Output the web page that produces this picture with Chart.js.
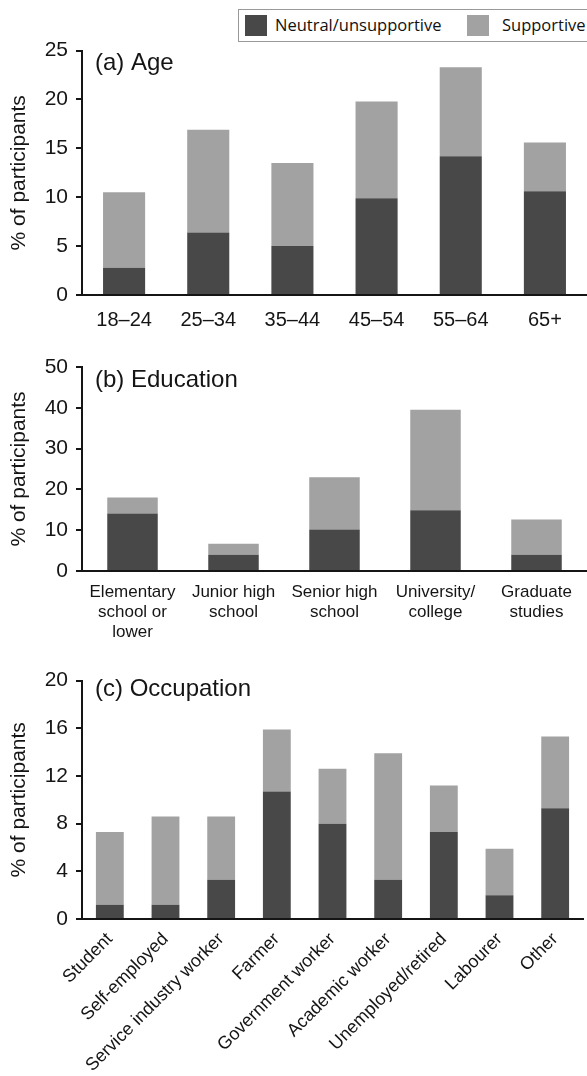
<!DOCTYPE html>
<html>
<head>
<meta charset="utf-8">
<script src="https://cdn.jsdelivr.net/npm/chart.js@4.4.1/dist/chart.umd.min.js"></script>
<style>
  body { margin: 0; background: #fff; }
  #wrap { position: relative; width: 587px; height: 1076px; overflow: hidden; }
  canvas { position: absolute; left: 0; }
  #legend {
    position: absolute; left: 238px; top: 9px; width: 370px; height: 31px;
    border: 1.5px solid #999; background: #fff; z-index: 2;
    font-family: 'Open Sans', sans-serif; font-size: 16.5px; color: #111;
  }
  #legend span.sw { position: absolute; top: 5px; width: 22px; height: 21px; }
  #legend span.tx { position: absolute; top: 4px; line-height: 22px; }
</style>
</head>
<body>
<div id="wrap">
  <div id="legend"></div>
  <canvas id="age" width="587" height="310" style="top:30px"></canvas>
  <canvas id="edu" width="587" height="320" style="top:340px"></canvas>
  <canvas id="occ" width="587" height="416" style="top:660px"></canvas>
</div>
<script>
const seriesNames = ['Neutral/unsupportive', 'Supportive'];

const ageLabels = ['18–24', '25–34', '35–44', '45–54', '55–64', '65+'];
const ageNeutral = [2.8, 6.4, 5.0, 9.9, 14.2, 10.6];
const ageSupportive = [7.7, 10.5, 8.5, 9.9, 9.1, 5.0];
const ageTicks = [0, 25, 5];

const eduLabels = [['Elementary', 'school or', 'lower'], ['Junior high', 'school'], ['Senior high', 'school'], ['University/', 'college'], ['Graduate', 'studies']];
const eduNeutral = [14.1, 4.0, 10.2, 14.9, 4.0];
const eduSupportive = [3.9, 2.7, 12.8, 24.6, 8.6];
const eduTicks = [0, 50, 10];

const occLabels = ['Student', 'Self-employed', 'Service industry worker', 'Farmer', 'Government worker', 'Academic worker', 'Unemployed/retired', 'Labourer', 'Other'];
const occNeutral = [1.2, 1.2, 3.3, 10.7, 8.0, 3.3, 7.3, 2.0, 9.3];
const occSupportive = [6.1, 7.4, 5.3, 5.2, 4.6, 10.6, 3.9, 3.9, 6.0];
const occTicks = [0, 20, 4];

const DARK = '#484848';
const LIGHT = '#a2a2a2';
const INK = '#151515';
const FONT = "'Liberation Sans', Arial, sans-serif";

// legend
const colors = [DARK, LIGHT];
const legendPos = [[6, 36], [228, 263]];
const legend = document.getElementById('legend');
seriesNames.forEach((name, i) => {
  legend.insertAdjacentHTML('beforeend',
    `<span class="sw" style="left:${legendPos[i][0]}px;background:${colors[i]}"></span>` +
    `<span class="tx" style="left:${legendPos[i][1]}px">${name}</span>`);
});

const titlePlugin = {
  id: 'panelTitle',
  afterDraw(chart, args, opts) {
    const { ctx, chartArea } = chart;
    ctx.save();
    ctx.font = `24px ${FONT}`;
    ctx.fillStyle = INK;
    ctx.textBaseline = 'alphabetic';
    ctx.fillText(opts.text, chartArea.left + 13, chartArea.top + opts.dy);
    ctx.restore();
  }
};

function panel(id, title, labels, neutral, supportive, yTicks, o) {
  return new Chart(document.getElementById(id), {
    type: 'bar',
    data: {
      labels,
      datasets: [
        { label: seriesNames[0], data: neutral, backgroundColor: DARK, barPercentage: 1, categoryPercentage: 0.5 },
        { label: seriesNames[1], data: supportive, backgroundColor: LIGHT, barPercentage: 1, categoryPercentage: 0.5 }
      ]
    },
    options: {
      responsive: false,
      animation: false,
      layout: { padding: { top: o.top, right: o.right, left: 0, bottom: 0 } },
      plugins: {
        legend: { display: false },
        tooltip: { enabled: false },
        panelTitle: { text: title, dy: o.titleDy }
      },
      scales: {
        x: {
          stacked: true,
          grid: { display: false, drawTicks: false },
          border: { display: true, color: INK, width: 2 },
          ticks: {
            color: INK, autoSkip: false,
            font: { family: FONT, size: o.xFont, lineHeight: 1.15 },
            padding: o.xPad,
            maxRotation: o.rot, minRotation: o.rot
          },
          afterFit: s => { s.height = o.xHeight; }
        },
        y: {
          stacked: true,
          min: yTicks[0], max: yTicks[1],
          grid: { drawOnChartArea: false, drawTicks: true, tickLength: 6, color: INK, lineWidth: 2 },
          border: { display: true, color: INK, width: 2 },
          ticks: { stepSize: yTicks[2], color: INK, font: { family: FONT, size: 21 }, padding: 8 },
          title: {
            display: true, text: '% of participants', color: INK,
            font: { family: FONT, size: 21 }, padding: { top: 7, bottom: 0 }
          },
          afterFit: s => { s.width = 82; }
        }
      }
    },
    plugins: [titlePlugin]
  });
}

panel('age', '(a) Age', ageLabels, ageNeutral, ageSupportive, ageTicks,
  { top: 18, right: 0, titleDy: 19, xFont: 20, xPad: 14, rot: 0, xHeight: 45 });
panel('edu', '(b) Education', eduLabels, eduNeutral, eduSupportive, eduTicks,
  { top: 27, right: 0, titleDy: 20, xFont: 17, xPad: 12, rot: 0, xHeight: 89 });
panel('occ', '(c) Occupation', occLabels, occNeutral, occSupportive, occTicks,
  { top: 18, right: 4, titleDy: 15, xFont: 18, xPad: 10, rot: 45, xHeight: 157 });
</script>
</body>
</html>
